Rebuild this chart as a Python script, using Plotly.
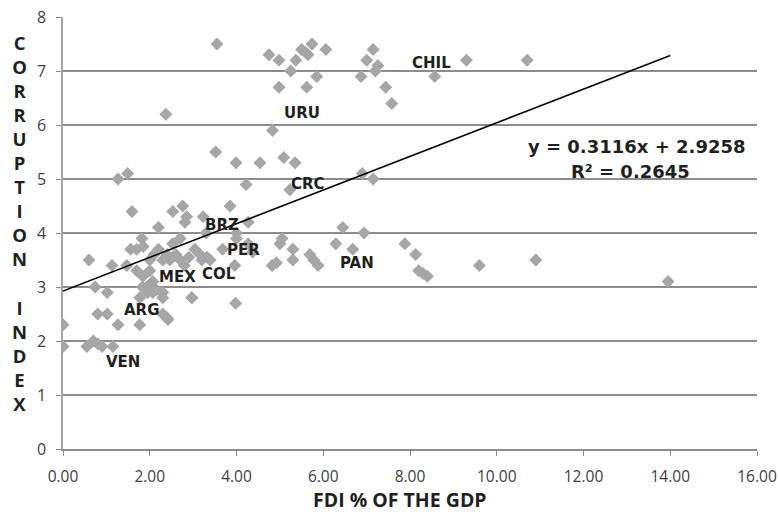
import plotly.graph_objects as go

# FDI % of GDP (x) and Corruption index (y)
fdi = [3.55, 2.37, 4.75, 4.98, 5.25, 5.37, 5.5, 5.65, 5.74, 5.58, 6.06, 5.85, 5.62, 4.98,
       6.87, 7.0, 7.15, 7.26, 7.2, 7.44, 7.58, 8.57, 9.3, 10.7,
       4.83, 3.52, 3.99, 4.54, 5.09, 5.35, 4.22, 5.23, 1.27, 1.49, 6.9, 7.15,
       6.45, 6.94, 6.29, 6.68, 5.05, 5.0, 5.3, 5.3, 4.82, 4.92, 5.69, 5.78, 5.88,
       7.88, 8.13, 8.2, 8.3, 8.4, 9.6, 10.9, 13.95,
       0.0, 0.0, 0.55, 0.7, 0.8, 0.9, 1.15, 0.6, 0.74, 1.02, 0.8, 1.02, 1.27, 1.13, 1.47,
       1.59, 1.56, 1.7, 1.82, 1.85, 1.7, 1.84, 1.77, 1.77, 1.93, 1.95, 2.07, 2.07, 2.2,
       2.2, 2.3, 2.3, 2.42, 2.3, 2.3, 2.46, 2.53, 2.53, 2.7, 2.76, 2.85, 2.81, 2.7, 2.8,
       2.97, 3.04, 3.16, 3.2, 3.23, 3.32, 3.39, 3.3, 3.68, 3.85, 3.96, 3.98, 4.0, 4.27,
       4.27, 4.37, 4.0,
       2.0, 2.1, 2.4, 2.6, 2.9, 2.0, 2.15, 1.83, 2.28, 2.4, 2.97]
corruption = [7.5, 6.2, 7.3, 7.2, 7.0, 7.2, 7.4, 7.3, 7.5, 7.35, 7.4, 6.9, 6.7, 6.7,
              6.9, 7.2, 7.4, 7.1, 7.0, 6.7, 6.4, 6.9, 7.2, 7.2,
              5.9, 5.5, 5.3, 5.3, 5.4, 5.3, 4.9, 4.8, 5.0, 5.1, 5.1, 5.0,
              4.1, 4.0, 3.8, 3.7, 3.9, 3.8, 3.7, 3.5, 3.4, 3.45, 3.6, 3.5, 3.4,
              3.8, 3.6, 3.3, 3.25, 3.2, 3.4, 3.5, 3.1,
              2.3, 1.9, 1.9, 2.0, 1.95, 1.9, 1.9, 3.5, 3.0, 2.9, 2.5, 2.5, 2.3, 3.4, 3.4,
              4.4, 3.7, 3.7, 3.9, 3.75, 3.3, 3.2, 2.8, 2.3, 3.0, 2.9, 3.1, 2.9, 4.1,
              3.7, 2.9, 2.8, 2.4, 2.5, 3.5, 3.5, 4.4, 3.8, 3.9, 4.5, 4.3, 4.2, 3.5, 3.4,
              2.8, 3.7, 3.6, 3.5, 4.3, 3.55, 3.5, 4.0, 3.7, 4.5, 3.4, 2.7, 3.9, 4.2,
              3.8, 3.65, 4.0,
              3.5, 3.6, 3.6, 3.6, 3.55, 3.3, 2.95, 3.0, 2.9, 2.43, 2.8]

# Country labels
countries = ["CHIL", "URU", "CRC", "BRZ", "PER", "MEX", "COL", "ARG", "VEN", "PAN"]
label_x = [8.5, 5.5, 5.65, 3.67, 4.17, 2.63, 3.6, 1.82, 1.38, 6.78]
label_y = [7.15, 6.22, 4.91, 4.15, 3.69, 3.19, 3.24, 2.57, 1.61, 3.44]

# Linear trend (from the equation shown on the chart)
slope = 0.3116
intercept = 2.9258
r2 = 0.2645
trend_x = [0.0, 14.0]
trend_y = [slope * v + intercept for v in trend_x]

x_ticks = [0, 2, 4, 6, 8, 10, 12, 14, 16]
y_ticks = [0, 1, 2, 3, 4, 5, 6, 7, 8]

label_font = "'DejaVu Sans', sans-serif"
title_font = "'Open Sans', sans-serif"
tick_font = "'Open Sans', sans-serif"
text_color = "#231f20"

fig = go.Figure()
fig.add_trace(go.Scatter(
    x=fdi, y=corruption, mode="markers",
    marker=dict(symbol="diamond", size=10, color="#a6a6a6", line=dict(width=0)),
    hoverinfo="x+y", showlegend=False))
fig.add_trace(go.Scatter(
    x=trend_x, y=trend_y, mode="lines",
    line=dict(color="black", width=1.5), showlegend=False, hoverinfo="skip"))

for name, lx, ly in zip(countries, label_x, label_y):
    fig.add_annotation(x=lx, y=ly, text=f"<b>{name}</b>", showarrow=False,
                       font=dict(family=label_font, size=15, color=text_color),
                       xanchor="center", yanchor="middle")

fig.add_annotation(x=13.23, y=5.61, text=f"<b>y = {slope}x + {intercept}</b>",
                   showarrow=False, xanchor="center", yanchor="middle",
                   font=dict(family=label_font, size=18, color=text_color))
fig.add_annotation(x=13.09, y=5.13, text=f"<b>R² = {r2}</b>",
                   showarrow=False, xanchor="center", yanchor="middle",
                   font=dict(family=label_font, size=18, color=text_color))

ytitle = "CORRUPTION\u00a0INDEX"
fig.add_annotation(xref="paper", yref="paper", x=-0.062, y=0.523,
                   text="<br>".join(f"<b>{c}</b>" if c != "\u00a0" else "\u00a0" for c in ytitle),
                   showarrow=False, xanchor="center", yanchor="middle", align="center",
                   font=dict(family=title_font, size=18.5, color=text_color))

fig.add_annotation(xref="paper", yref="paper", x=0.486, y=-0.118,
                   text="<b>FDI % OF THE GDP</b>", showarrow=False,
                   xanchor="center", yanchor="middle",
                   font=dict(family=title_font, size=19.5, color=text_color))

fig.update_layout(
    width=779, height=512,
    margin=dict(l=63, r=22, t=17, b=63, autoexpand=False),
    paper_bgcolor="white", plot_bgcolor="white",
    font=dict(family=tick_font, color="#404040"),
    xaxis=dict(range=[0, 16], tickvals=x_ticks, tickformat=".2f", automargin=False,
               showgrid=False, zeroline=False, showline=True, linecolor="#8c8c8c",
               linewidth=1.5, ticks="outside", ticklen=5, tickcolor="#8c8c8c",
               ticklabelstandoff=8,
               tickfont=dict(size=15.5, family=tick_font, color="#404040")),
    yaxis=dict(range=[0, 8], tickvals=y_ticks, showgrid=True, gridcolor="#8c8c8c",
               automargin=False,
               gridwidth=1.5, zeroline=False, showline=True, linecolor="#a6a6a6",
               linewidth=1.5, ticks="outside", ticklen=5, tickcolor="#8c8c8c",
               ticklabelstandoff=7,
               tickfont=dict(size=16, family=tick_font, color="#404040")),
)

# remove the default page margin so the figure sits at the window's top-left corner
fig.write_html("out.html", config={"displayModeBar": False},
               post_script="document.body.style.margin='0px';")
